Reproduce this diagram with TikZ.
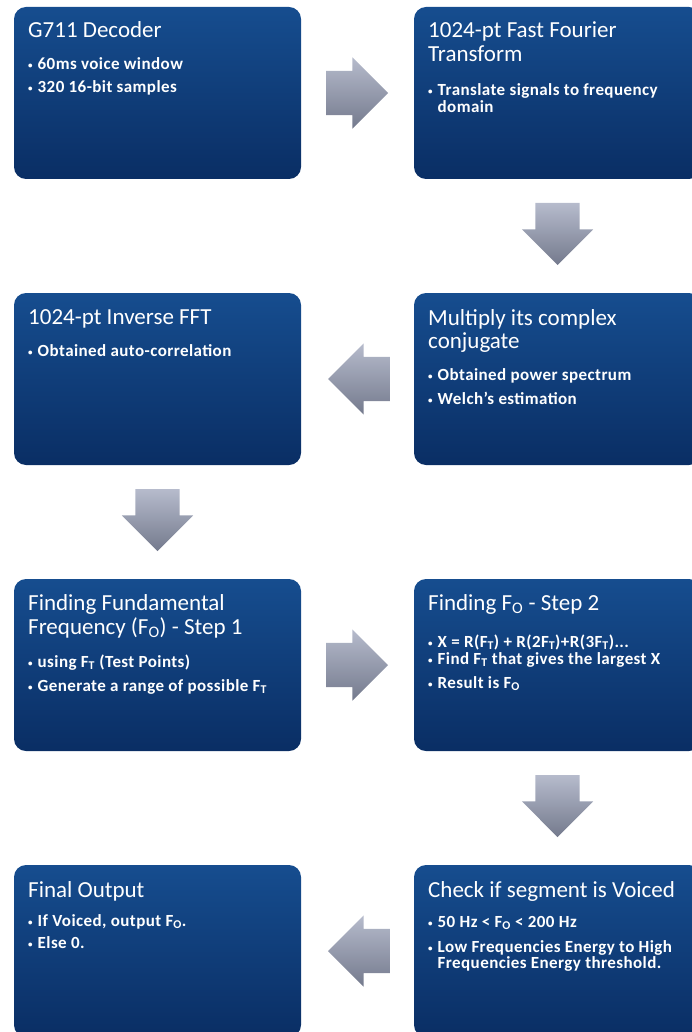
\documentclass[tikz,border=0pt]{standalone}
\usepackage{fontspec}
\setmainfont{Carlito}
\newfontfamily\bulfont{Carlito}[LetterSpace=2.5]
\usetikzlibrary{shapes.arrows,calc}
\definecolor{boxtop}{RGB}{22,77,143}
\definecolor{boxbot}{RGB}{10,46,100}
\definecolor{arrtop}{RGB}{182,187,204}
\definecolor{arrbot}{RGB}{116,122,141}
\newcommand{\bul}{\makebox[9.5pt][l]{\fontsize{9}{9}\selectfont\raisebox{1pt}{•}}}
\newcommand{\sbs}[1]{\textsubscript{#1}}
\begin{document}
\begin{tikzpicture}[x=1pt,y=-1pt,
  stage/.style={rounded corners=12pt, top color=boxtop, bottom color=boxbot,
    minimum width=287pt, minimum height=172pt, anchor=north west,
    inner sep=0pt, outer sep=0pt},
  ttl/.style={anchor=base west, inner sep=0pt, text=white,
    font=\fontsize{23}{25}\selectfont},
  itm/.style={anchor=base west, inner sep=0pt, text=white,
    font=\bulfont\bfseries\fontsize{17}{18}\selectfont},
  blk/.style={single arrow, single arrow head extend=13.5pt,
    minimum height=62pt, inner xsep=0pt, inner ysep=22pt, outer sep=0pt,
    anchor=tail, top color=arrtop, bottom color=arrbot},
  blkdown/.style={blk, shape border rotate=270, inner xsep=22pt, inner ysep=0pt}]
\useasboundingbox (0,0) rectangle (691,1032);
% boxes
\node[stage] (dec) at (14,7) {};
\node[stage] (fft) at (414,7) {};
\node[stage] (mul) at (414,293) {};
\node[stage] (ifft) at (14,293) {};
\node[stage] (st1) at (14,579) {};
\node[stage] (st2) at (414,579) {};
\node[stage] (chk) at (414,865) {};
\node[stage] (out) at (14,865) {};
% arrows
\node[blk] (a1) at ($(dec.east)+(25,0)$) {};
\node[blkdown] (a2) at ($(fft.south)+(0,24)$) {};
\node[blk, shape border rotate=180] (a3) at ($(mul.west)+(-24,0)$) {};
\node[blkdown] (a4) at ($(ifft.south)+(0,24)$) {};
\node[blk] (a5) at ($(st1.east)+(25,0)$) {};
\node[blkdown] (a6) at ($(st2.south)+(0,24)$) {};
\node[blk, shape border rotate=180] (a7) at ($(chk.west)+(-24,0)$) {};
% texts: G711
\node[ttl] (t1) at ($(dec.north west)+(14,31)$) {G711 Decoder};
\node[itm] (t1a) at ($(dec.north west)+(14,63)$) {\bul 60ms voice window};
\node[itm] (t1b) at ($(dec.north west)+(14,85.5)$) {\bul 320 16-bit samples};
% FFT
\node[ttl] (t2) at ($(fft.north west)+(14,31)$) {1024-pt Fast Fourier};
\node[ttl] (t2l) at ($(fft.north west)+(14,55)$) {Transform};
\node[itm] (t2a) at ($(fft.north west)+(14,89)$) {\bul Translate signals to frequency};
\node[itm] (t2b) at ($(fft.north west)+(23.5,106)$) {domain};
% Multiply
\node[ttl] (t3) at ($(mul.north west)+(14,32)$) {Multiply its complex};
\node[ttl] (t3l) at ($(mul.north west)+(14,55)$) {conjugate};
\node[itm] (t3a) at ($(mul.north west)+(14,87)$) {\bul Obtained power spectrum};
\node[itm] (t3b) at ($(mul.north west)+(14,111)$) {\bul Welch’s estimation};
% IFFT
\node[ttl] (t4) at ($(ifft.north west)+(14,31)$) {1024-pt Inverse FFT};
\node[itm] (t4a) at ($(ifft.north west)+(14,63)$) {\bul Obtained auto-correlation};
% Step 1
\node[ttl] (t5) at ($(st1.north west)+(14,31)$) {Finding Fundamental};
\node[ttl] (t5l) at ($(st1.north west)+(14,55)$) {Frequency (F\sbs{O}) - Step 1};
\node[itm] (t5a) at ($(st1.north west)+(14,88)$) {\bul using F\sbs{T} (Test Points)};
\node[itm] (t5b) at ($(st1.north west)+(14,112)$) {\bul Generate a range of possible F\sbs{T}};
% Step 2
\node[ttl] (t6) at ($(st2.north west)+(14,31)$) {Finding F\sbs{O} - Step 2};
\node[itm] (t6a) at ($(st2.north west)+(14,68)$) {\bul X = R(F\sbs{T}) + R(2F\sbs{T})+R(3F\sbs{T})...};
\node[itm] (t6b) at ($(st2.north west)+(14,85)$) {\bul Find F\sbs{T} that gives the largest X};
\node[itm] (t6c) at ($(st2.north west)+(14,109)$) {\bul Result is F\sbs{O}};
% Check
\node[ttl] (t7) at ($(chk.north west)+(14,32)$) {Check if segment is Voiced};
\node[itm] (t7a) at ($(chk.north west)+(14,62)$) {\bul 50 Hz < F\sbs{O} < 200 Hz};
\node[itm] (t7b) at ($(chk.north west)+(14,87)$) {\bul Low Frequencies Energy to High};
\node[itm] (t7c) at ($(chk.north west)+(23.5,103)$) {Frequencies Energy threshold.};
% Output
\node[ttl] (t8) at ($(out.north west)+(14,32)$) {Final Output};
\node[itm] (t8a) at ($(out.north west)+(14,61)$) {\bul If Voiced, output F\sbs{O}.};
\node[itm] (t8b) at ($(out.north west)+(14,83)$) {\bul Else 0.};
\end{tikzpicture}
\end{document}
